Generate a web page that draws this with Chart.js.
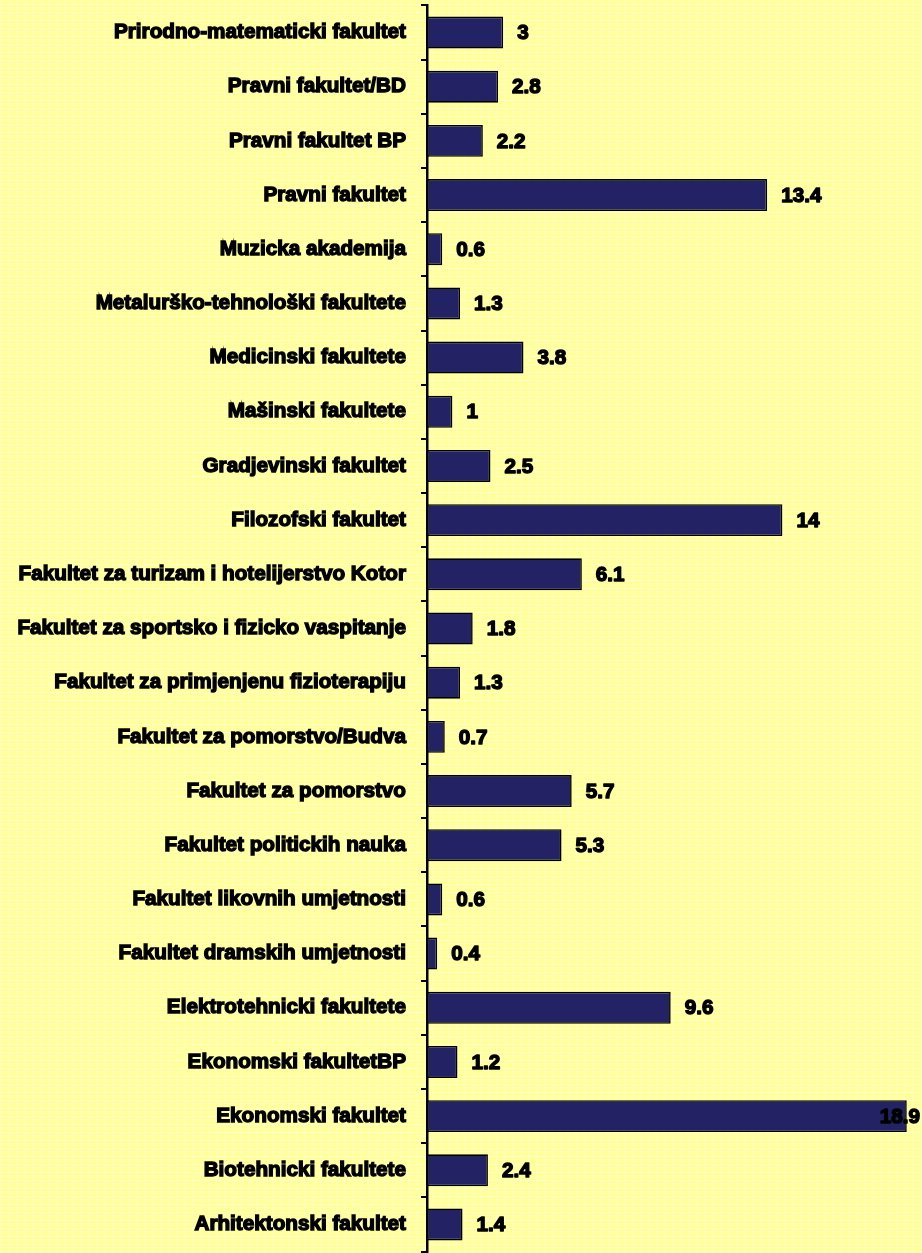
<!DOCTYPE html>
<html>
<head>
<meta charset="utf-8">
<script src="https://cdn.jsdelivr.net/npm/chart.js@4.4.1/dist/chart.umd.min.js"></script>
<style>
  html, body { margin: 0; padding: 0; overflow: hidden; }
  body {
    width: 922px; height: 1253px;
    background-color: #FFFF9E;
    background-image:
      repeating-linear-gradient(0deg, rgba(255,255,255,0.35) 0px, rgba(255,255,255,0.35) 1px, transparent 1px, transparent 8px),
      repeating-linear-gradient(90deg, rgba(255,255,255,0.35) 0px, rgba(255,255,255,0.35) 1px, transparent 1px, transparent 8px);
  }
  #wrap { position: relative; width: 922px; height: 1253px; overflow: hidden; }
  #c { position: absolute; left: 0; top: -22px; }
</style>
</head>
<body>
<div id="wrap"><canvas id="c" width="922" height="1301" style="width:922px;height:1301px"></canvas></div>
<script>
const categories = [
  "Prirodno-matematicki fakultet",
  "Pravni fakultet/BD",
  "Pravni fakultet BP",
  "Pravni fakultet",
  "Muzicka akademija",
  "Metalurško-tehnološki fakultete",
  "Medicinski fakultete",
  "Mašinski fakultete",
  "Gradjevinski fakultet",
  "Filozofski fakultet",
  "Fakultet za turizam i hotelijerstvo Kotor",
  "Fakultet za sportsko i fizicko vaspitanje",
  "Fakultet za primjenjenu fizioterapiju",
  "Fakultet za pomorstvo/Budva",
  "Fakultet za pomorstvo",
  "Fakultet politickih nauka",
  "Fakultet likovnih umjetnosti",
  "Fakultet dramskih umjetnosti",
  "Elektrotehnicki fakultete",
  "Ekonomski fakultetBP",
  "Ekonomski fakultet",
  "Biotehnicki fakultete",
  "Arhitektonski fakultet"
];
const values = [3, 2.8, 2.2, 13.4, 0.6, 1.3, 3.8, 1, 2.5, 14, 6.1, 1.8, 1.3, 0.7, 5.7, 5.3, 0.6, 0.4, 9.6, 1.2, 18.9, 2.4, 1.4];
const xMin = 0;
const xMax = 19.5;

const FONT = { family: "'Liberation Sans', Arial, sans-serif", size: 20.7, weight: 'bold' };

const valueLabels = {
  id: 'valueLabels',
  afterDatasetsDraw(chart) {
    const ctx = chart.ctx;
    const meta = chart.getDatasetMeta(0);
    ctx.save();
    ctx.font = `bold ${FONT.size}px ${FONT.family}`;
    ctx.textBaseline = 'middle';
    ctx.textAlign = 'left';
    ctx.fillStyle = '#000';
    ctx.strokeStyle = '#000';
    ctx.lineWidth = 1.4;
    ctx.lineJoin = 'round';
    meta.data.forEach((bar, i) => {
      const txt = String(values[i]);
      const w = ctx.measureText(txt).width;
      let x = bar.x + 14;
      if (x + w > chart.width - 2) x = chart.width - 2 - w;
      ctx.strokeText(txt, x, bar.y + 1);
      ctx.fillText(txt, x, bar.y + 1);
    });
    ctx.restore();
  }
};

new Chart(document.getElementById('c'), {
  type: 'bar',
  data: {
    labels: categories,
    datasets: [{
      data: values,
      backgroundColor: '#222264',
      borderColor: '#000000',
      borderWidth: 1.6,
      borderSkipped: false,
      categoryPercentage: 1,
      barPercentage: 0.59
    }]
  },
  options: {
    indexAxis: 'y',
    responsive: false,
    maintainAspectRatio: false,
    animation: false,
    devicePixelRatio: 1,
    layout: { padding: { top: 0, bottom: 0, left: 0, right: 0 } },
    plugins: {
      legend: { display: false },
      tooltip: { enabled: false }
    },
    scales: {
      x: {
        display: false,
        min: xMin,
        max: xMax
      },
      y: {
        afterFit(scale) { scale.width = 427; },
        grid: {
          offset: true,
          drawOnChartArea: false,
          drawTicks: true,
          tickLength: 6,
          color: '#000',
          lineWidth: 2
        },
        border: { display: true, color: '#000', width: 2.5 },
        ticks: {
          color: '#000',
          font: FONT,
          padding: 15,
          textStrokeColor: '#000',
          textStrokeWidth: 1.4,
          autoSkip: false
        }
      }
    }
  },
  plugins: [valueLabels]
});
</script>
</body>
</html>
